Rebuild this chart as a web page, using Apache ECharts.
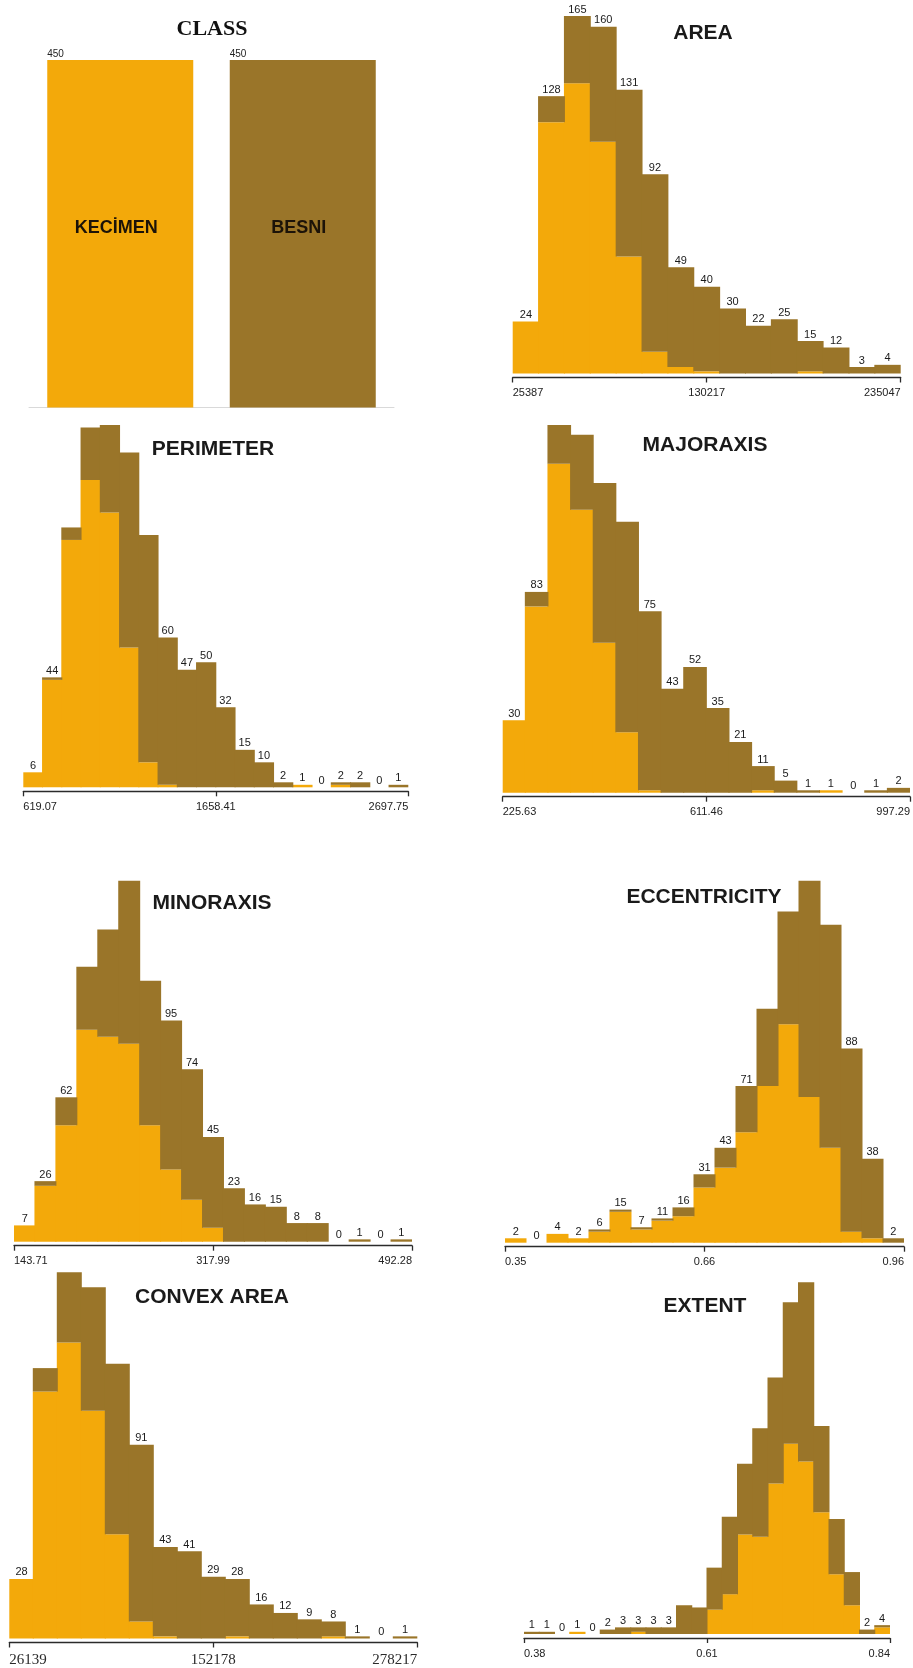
<!DOCTYPE html>
<html>
<head>
<meta charset="utf-8">
<script src="https://cdn.jsdelivr.net/npm/echarts@6/dist/echarts.min.js"></script>
<style>
  html, body { margin: 0; padding: 0; background: #ffffff; }
  #chart { width: 913px; height: 1668px; }
</style>
</head>
<body>
<div id="chart"></div>
<script>
// Raisin dataset: class balance and per-feature histograms, split by class.
const classNames = ['KECİMEN', 'BESNI'];
const classCounts = [450, 450];

const areaKecimen = [24, 116, 134, 107, 54, 10, 3, 1, 0, 0, 0, 1, 0, 0, 0];
const areaBesni   = [0, 12, 31, 53, 77, 82, 46, 39, 30, 22, 25, 14, 12, 3, 4];
const areaTicks   = ['25387', '130217', '235047'];
const areaUnlabeled = [];

const perimeterKecimen = [6, 43, 99, 123, 110, 56, 10, 1, 0, 0, 0, 0, 0, 0, 1, 0, 1, 0, 0, 0];
const perimeterBesni   = [0, 1, 5, 21, 35, 78, 91, 59, 47, 50, 32, 15, 10, 2, 0, 0, 1, 2, 0, 1];
const perimeterTicks   = ['619.07', '1658.41', '2697.75'];
const perimeterUnlabeled = [2, 3, 4, 5, 6];

const majorKecimen = [30, 77, 136, 117, 62, 25, 1, 0, 0, 0, 0, 1, 0, 0, 1, 0, 0, 0];
const majorBesni   = [0, 6, 16, 31, 66, 87, 74, 43, 52, 35, 21, 10, 5, 1, 0, 0, 1, 2];
const majorTicks   = ['225.63', '611.46', '997.29'];
const majorUnlabeled = [2, 3, 4, 5];

const minorKecimen = [7, 24, 50, 91, 88, 85, 50, 31, 18, 6, 0, 0, 0, 0, 0, 0, 0, 0, 0];
const minorBesni   = [0, 2, 12, 27, 46, 70, 62, 64, 56, 39, 23, 16, 15, 8, 8, 0, 1, 0, 1];
const minorTicks   = ['143.71', '317.99', '492.28'];
const minorUnlabeled = [3, 4, 5, 6];

const eccKecimen = [2, 0, 4, 2, 5, 14, 6, 10, 12, 25, 34, 50, 71, 99, 66, 43, 5, 2, 0];
const eccBesni   = [0, 0, 0, 0, 1, 1, 1, 1, 4, 6, 9, 21, 35, 51, 98, 101, 83, 36, 2];
const eccTicks   = ['0.35', '0.66', '0.96'];
const eccUnlabeled = [12, 13, 14, 15];

const convexKecimen = [28, 116, 139, 107, 49, 8, 1, 0, 0, 1, 0, 0, 0, 1, 0, 0, 0];
const convexBesni   = [0, 11, 33, 58, 80, 83, 42, 41, 29, 27, 16, 12, 9, 7, 1, 0, 1];
const convexTicks   = ['26139', '152178', '278217'];
const convexUnlabeled = [1, 2, 3, 4];

const extentKecimen = [0, 0, 0, 1, 0, 0, 0, 1, 0, 0, 0, 0, 11, 18, 45, 44, 68, 86, 78, 55, 27, 13, 0, 3];
const extentBesni   = [1, 1, 0, 0, 0, 2, 3, 2, 3, 3, 13, 12, 19, 35, 32, 49, 48, 64, 81, 39, 25, 15, 2, 1];
const extentTicks   = ['0.38', '0.61', '0.84'];
const extentUnlabeled = [10, 11, 12, 13, 14, 15, 16, 17, 18, 19, 20, 21];

const ORANGE = '#F3A90A';
const BROWN = '#9A7529';
const SANS = '"Liberation Sans", Arial, sans-serif';
const SERIF = '"Liberation Serif", "Times New Roman", serif';

// Plot boxes (pixel layout) for each histogram panel.
const panels = [
  { title: 'AREA', kec: areaKecimen, bes: areaBesni, ticks: areaTicks, hide: areaUnlabeled,
    left: 512.7, right: 900.7, top: 16, bottom: 373.5, tx: 703, ty: 33 },
  { title: 'PERIMETER', kec: perimeterKecimen, bes: perimeterBesni, ticks: perimeterTicks, hide: perimeterUnlabeled,
    left: 23.3, right: 408.3, top: 425, bottom: 787.3, tx: 213, ty: 449 },
  { title: 'MAJORAXIS', kec: majorKecimen, bes: majorBesni, ticks: majorTicks, hide: majorUnlabeled,
    left: 502.7, right: 910, top: 425, bottom: 792.7, tx: 705, ty: 445 },
  { title: 'MINORAXIS', kec: minorKecimen, bes: minorBesni, ticks: minorTicks, hide: minorUnlabeled,
    left: 14, right: 412, top: 880.7, bottom: 1241.7, tx: 212, ty: 903 },
  { title: 'ECCENTRICITY', kec: eccKecimen, bes: eccBesni, ticks: eccTicks, hide: eccUnlabeled,
    left: 505, right: 904, top: 880.7, bottom: 1242.7, tx: 704, ty: 897 },
  { title: 'CONVEX AREA', kec: convexKecimen, bes: convexBesni, ticks: convexTicks, hide: convexUnlabeled,
    left: 9.3, right: 417.3, top: 1272.3, bottom: 1638.5, tx: 212, ty: 1297, serifTicks: true },
  { title: 'EXTENT', kec: extentKecimen, bes: extentBesni, ticks: extentTicks, hide: extentUnlabeled,
    left: 524, right: 890, top: 1282.3, bottom: 1634, tx: 705, ty: 1306 }
];

const grid = [];
const xAxis = [];
const yAxis = [];
const series = [];
const graphic = [];

function addText(text, x, y, font, fill) {
  graphic.push({
    type: 'text', x: x, y: y, silent: true,
    style: { text: text, font: font, fill: fill,
             align: 'center', verticalAlign: 'middle',
             textAlign: 'center', textVerticalAlign: 'middle' }
  });
}

// CLASS panel: two full bars, one per class.
grid.push({ left: 29, top: 60, width: 365, height: 347.5 });
xAxis.push({
  type: 'category', gridIndex: 0, data: classNames,
  axisLine: { show: true, lineStyle: { color: '#d9d9d9', width: 1 } },
  axisTick: { show: false }, axisLabel: { show: false }, splitLine: { show: false }
});
yAxis.push({ type: 'value', gridIndex: 0, min: 0, max: Math.max(...classCounts), show: false });
series.push({
  type: 'bar', xAxisIndex: 0, yAxisIndex: 0, barCategoryGap: '20%', barGap: '-100%',
  data: classCounts.map((v, i) => ({ value: v, itemStyle: { color: i === 0 ? ORANGE : BROWN } })),
  label: {
    show: true, position: 'inside', offset: [-4, -6],
    formatter: p => classNames[p.dataIndex],
    fontFamily: SANS, fontSize: 18, fontWeight: 'bold', color: '#1c1308'
  },
  silent: true
});
series.push({
  type: 'bar', xAxisIndex: 0, yAxisIndex: 0, barCategoryGap: '20%', barGap: '-100%',
  data: classCounts,
  itemStyle: { color: 'rgba(0,0,0,0)' },
  label: {
    show: true, position: [0, -1], align: 'left', verticalAlign: 'bottom',
    fontFamily: SANS, fontSize: 10, color: '#222'
  },
  silent: true
});
addText('CLASS', 212, 29, 'bold 22px ' + SERIF, '#111');

// Histogram panels: stacked Kecimen (bottom) + Besni (top), with bin totals on top.
panels.forEach((p, k) => {
  const g = k + 1;
  const totals = p.kec.map((v, i) => v + p.bes[i]);
  const bins = totals.map((_, i) => String(i));
  const plotWidth = p.right - p.left;
  // bins slightly wider than their band so neighbours overlap and leave no seam
  const binWidth = plotWidth / bins.length + 1;
  grid.push({ left: p.left, top: p.top, width: plotWidth, height: p.bottom - p.top });

  const xCat = xAxis.length;
  xAxis.push({ type: 'category', gridIndex: g, data: bins, show: false, boundaryGap: true });
  const tickFont = p.serifTicks
    ? { fontFamily: SERIF, fontSize: 15, color: '#2a2a2a' }
    : { fontFamily: SANS, fontSize: 11, color: '#222' };
  xAxis.push({
    type: 'value', gridIndex: g, position: 'bottom', offset: 4,
    min: 0, max: 2, interval: 1,
    axisLine: { show: true, onZero: false, lineStyle: { color: '#2b2b2b', width: 1.3 } },
    axisTick: { show: true, length: 5, inside: false, lineStyle: { color: '#2b2b2b', width: 1.3 } },
    axisLabel: Object.assign({
      show: true, margin: 10, formatter: v => p.ticks[v],
      alignMinLabel: 'left', alignMaxLabel: 'right',
      showMinLabel: true, showMaxLabel: true
    }, tickFont),
    splitLine: { show: false }
  });
  const yIdx = yAxis.length;
  yAxis.push({ type: 'value', gridIndex: g, min: 0, max: Math.max(...totals), show: false });

  series.push({
    type: 'bar', name: 'Kecimen', xAxisIndex: xCat, yAxisIndex: yIdx,
    stack: 'bin' + g, barWidth: binWidth, barGap: 0,
    itemStyle: { color: ORANGE, borderWidth: 0 },
    data: p.kec,
    silent: true
  });
  series.push({
    type: 'bar', name: 'Besni', xAxisIndex: xCat, yAxisIndex: yIdx,
    stack: 'bin' + g, barWidth: binWidth, barGap: 0,
    itemStyle: { color: BROWN, borderWidth: 0 },
    data: p.bes.map((v, i) => p.hide.indexOf(i) >= 0 ? { value: v, label: { show: false } } : v),
    label: {
      show: true, position: 'top', distance: 1,
      formatter: q => String(totals[q.dataIndex]),
      fontFamily: SANS, fontSize: 11, color: '#1a1a1a'
    },
    silent: true
  });
  addText(p.title, p.tx, p.ty, 'bold 21px ' + SANS, '#1a1a1a');
});

const chart = echarts.init(document.getElementById('chart'), null, { renderer: 'canvas' });
chart.setOption({
  backgroundColor: '#ffffff',
  animation: false,
  grid: grid,
  xAxis: xAxis,
  yAxis: yAxis,
  series: series,
  graphic: graphic
});
</script>
</body>
</html>
